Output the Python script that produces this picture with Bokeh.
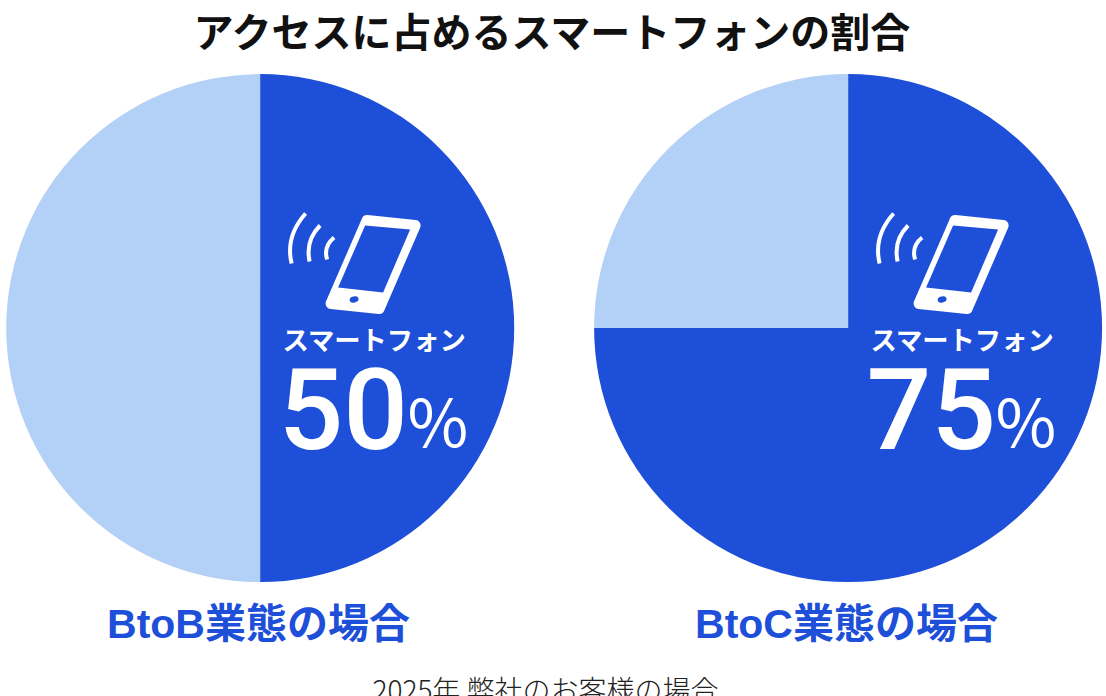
from math import pi
from bokeh.plotting import figure
from bokeh.core.properties import value
from bokeh.embed import file_html
from bokeh.resources import INLINE

title = "アクセスに占めるスマートフォンの割合"
caption = "2025年 弊社のお客様の場合"
chart_names = ["BtoB業態の場合", "BtoC業態の場合"]
smartphone_share = [50, 75]
other_share = [50, 25]
icon_label = "スマートフォン"
BLUE = "#1e4fd8"
LIGHT = "#b3d0f6"
CJK = "Noto Sans CJK JP"
LATIN = "Liberation Sans, Noto Sans CJK JP"

centers = [259.6, 847.6]
CY = 327.6
R = 254

p = figure(width=1106, height=696, x_range=(0, 1106), y_range=(696, 0),
           output_backend="svg", toolbar_location=None, min_border=0,
           x_axis_location=None, y_axis_location=None, outline_line_color=None,
           background_fill_color="white", border_fill_color="white")
p.grid.visible = False

def txt(x, y, s, size, color, font=CJK, style="normal", align="center"):
    p.text([x], [y], text=[s], text_font=value(font), text_font_size=f"{size}px",
           text_font_style=style, text_color=color, text_align=align, text_baseline="middle")

txt(553, 29, title, 40, "#111111", style="bold")

for cx, name, share, other in zip(centers, chart_names, smartphone_share, other_share):
    top = pi / 2
    split = top - 2 * pi * share / (share + other)
    p.wedge(x=[cx], y=[CY], radius=R, start_angle=[top], end_angle=[split],
            direction="clock", fill_color=BLUE, line_color=None)
    p.wedge(x=[cx], y=[CY], radius=R, start_angle=[split], end_angle=[top],
            direction="clock", fill_color=LIGHT, line_color=None)

    # phone icon (offsets relative to the slice centre)
    ox = cx - 260
    p.patch([x + ox for x in [367, 415, 379, 331]], [220, 225, 308, 303],
            fill_color="white", line_color="white", line_width=11, line_join="round")
    p.patch([x + ox for x in [365, 410, 383, 338]], [225, 229, 292, 287],
            fill_color=BLUE, line_color=None)
    p.ellipse([354 + ox], [299], width=9, height=6, angle=0.2, fill_color=BLUE, line_color=None)
    for x0, y0, x1, y1, cxp, cyp in [(291.5, 263, 305.5, 213, 285, 236),
                                     (309.5, 261, 320, 225, 305, 240),
                                     (327, 259, 334, 237, 323, 246)]:
        p.quadratic(x0=[x0 + ox], y0=[y0], x1=[x1 + ox], y1=[y1], cx=[cxp + ox], cy=[cyp],
                    line_color="white", line_width=4)

    txt(cx + 114.4, 338, icon_label, 26.3, "white", style="bold")
    p.text([cx + 18.4], [408], text=[f"{share}"], text_font=value("Roboto Medium, Roboto"), text_font_size="114px",
           text_color="white", text_align="left", text_baseline="middle")
    p.text([cx + 147.4], [417], text=["%"], text_font=value(CJK), text_font_size="66px",
           text_color="white", text_align="left", text_baseline="middle")
    txt(cx - 1.6, 623, name, 41, BLUE, font=LATIN, style="bold")

txt(545, 688, caption, 28, "#222222", font="Noto Sans CJK JP Light, Noto Sans CJK JP")

open("out.html", "w").write(file_html(p, INLINE))
